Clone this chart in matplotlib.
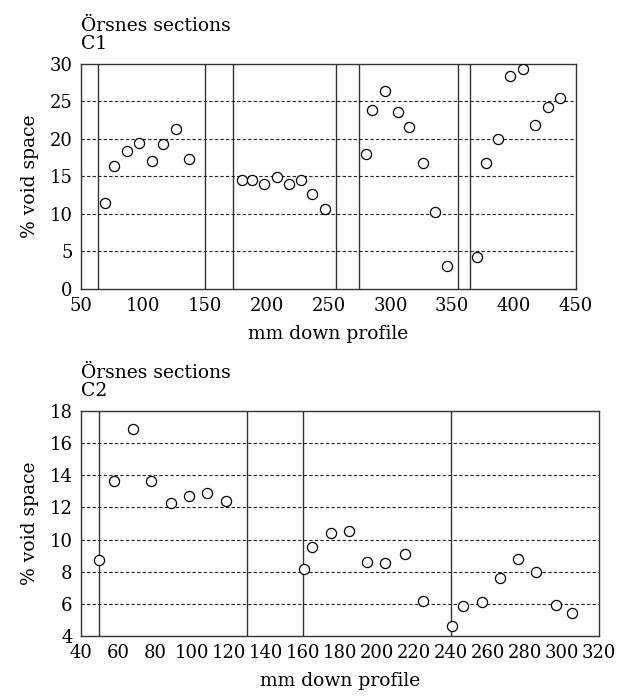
import matplotlib.pyplot as plt

# C1 section data
c1_x = [69, 77, 87, 97, 107, 116, 127, 137,
        180, 188, 198, 208, 218, 228, 237, 247,
        280, 285, 296, 306, 315, 326, 336, 346,
        370, 377, 387, 397, 407, 417, 427, 437]
c1_y = [11.4, 16.4, 18.4, 19.5, 17.1, 19.3, 21.3, 17.3,
        14.5, 14.5, 14.0, 14.9, 14.0, 14.5, 12.7, 10.7,
        18.0, 23.9, 26.4, 23.6, 21.6, 16.8, 10.3, 3.0,
        4.3, 16.8, 20.0, 28.4, 29.3, 21.8, 24.2, 25.4]
c1_breaks = [64, 150, 173, 256, 275, 355, 364]

# C2 section data
c2_x = [49.5, 58, 68, 78, 88.5, 98.5, 108, 118.5,
        160.5, 165, 175, 185, 194.5, 204.5, 215, 225,
        240.5, 246.5, 256.5, 266.5, 276, 286, 296.5, 305.5]
c2_y = [8.73, 13.63, 16.88, 13.65, 12.26, 12.71, 12.90, 12.4,
        8.19, 9.56, 10.41, 10.53, 8.6, 8.52, 9.08, 6.18,
        4.6, 5.87, 6.14, 7.6, 8.77, 7.98, 5.95, 5.45]
c2_breaks = [49.5, 130, 160, 240]

plt.rcParams['font.family'] = ['DejaVu Serif']
plt.rcParams['mathtext.fontset'] = 'dejavuserif'

fig = plt.figure(figsize=(6.27, 6.97), dpi=100)
ax1 = fig.add_axes([0.1292, 0.5854, 0.7895, 0.3228])
ax2 = fig.add_axes([0.1292, 0.0875, 0.8261, 0.3228])

EDGE = "#333333"
FS = 13.5


def draw_panel(ax, xs, ys, breaks, xlim, xticks, ylim, yticks, title):
    for b in breaks:
        ax.axvline(b, color=EDGE, lw=1.0, zorder=1)
    for yt in yticks[1:-1]:
        ax.axhline(yt, color="#222222", lw=0.8, ls=(0, (3, 2)), zorder=1)
    ax.plot(xs, ys, "o", ms=7.3, mfc="white", mec="black", mew=0.9, zorder=3)
    ax.set_xlim(*xlim)
    ax.set_ylim(*ylim)
    ax.set_xticks(xticks)
    ax.set_yticks(yticks)
    ax.tick_params(length=0, labelsize=13)
    ax.tick_params(axis="x", pad=6)
    ax.tick_params(axis="y", pad=6)
    for sp in ax.spines.values():
        sp.set_color(EDGE)
        sp.set_linewidth(1.0)
    ax.set_xlabel("mm down profile", fontsize=FS, labelpad=7)
    ax.set_ylabel("% void space", fontsize=FS, labelpad=8)
    ax.set_title(title, loc="left", fontsize=FS, pad=11, linespacing=1.0)


draw_panel(ax1, c1_x, c1_y, c1_breaks, (50, 450), range(50, 451, 50),
           (0, 30), list(range(0, 31, 5)), "Örsnes sections\nC1")
draw_panel(ax2, c2_x, c2_y, c2_breaks, (40, 320), range(40, 321, 20),
           (4, 18), list(range(4, 19, 2)), "Örsnes sections\nC2")

fig.savefig("out.png", dpi=100)
